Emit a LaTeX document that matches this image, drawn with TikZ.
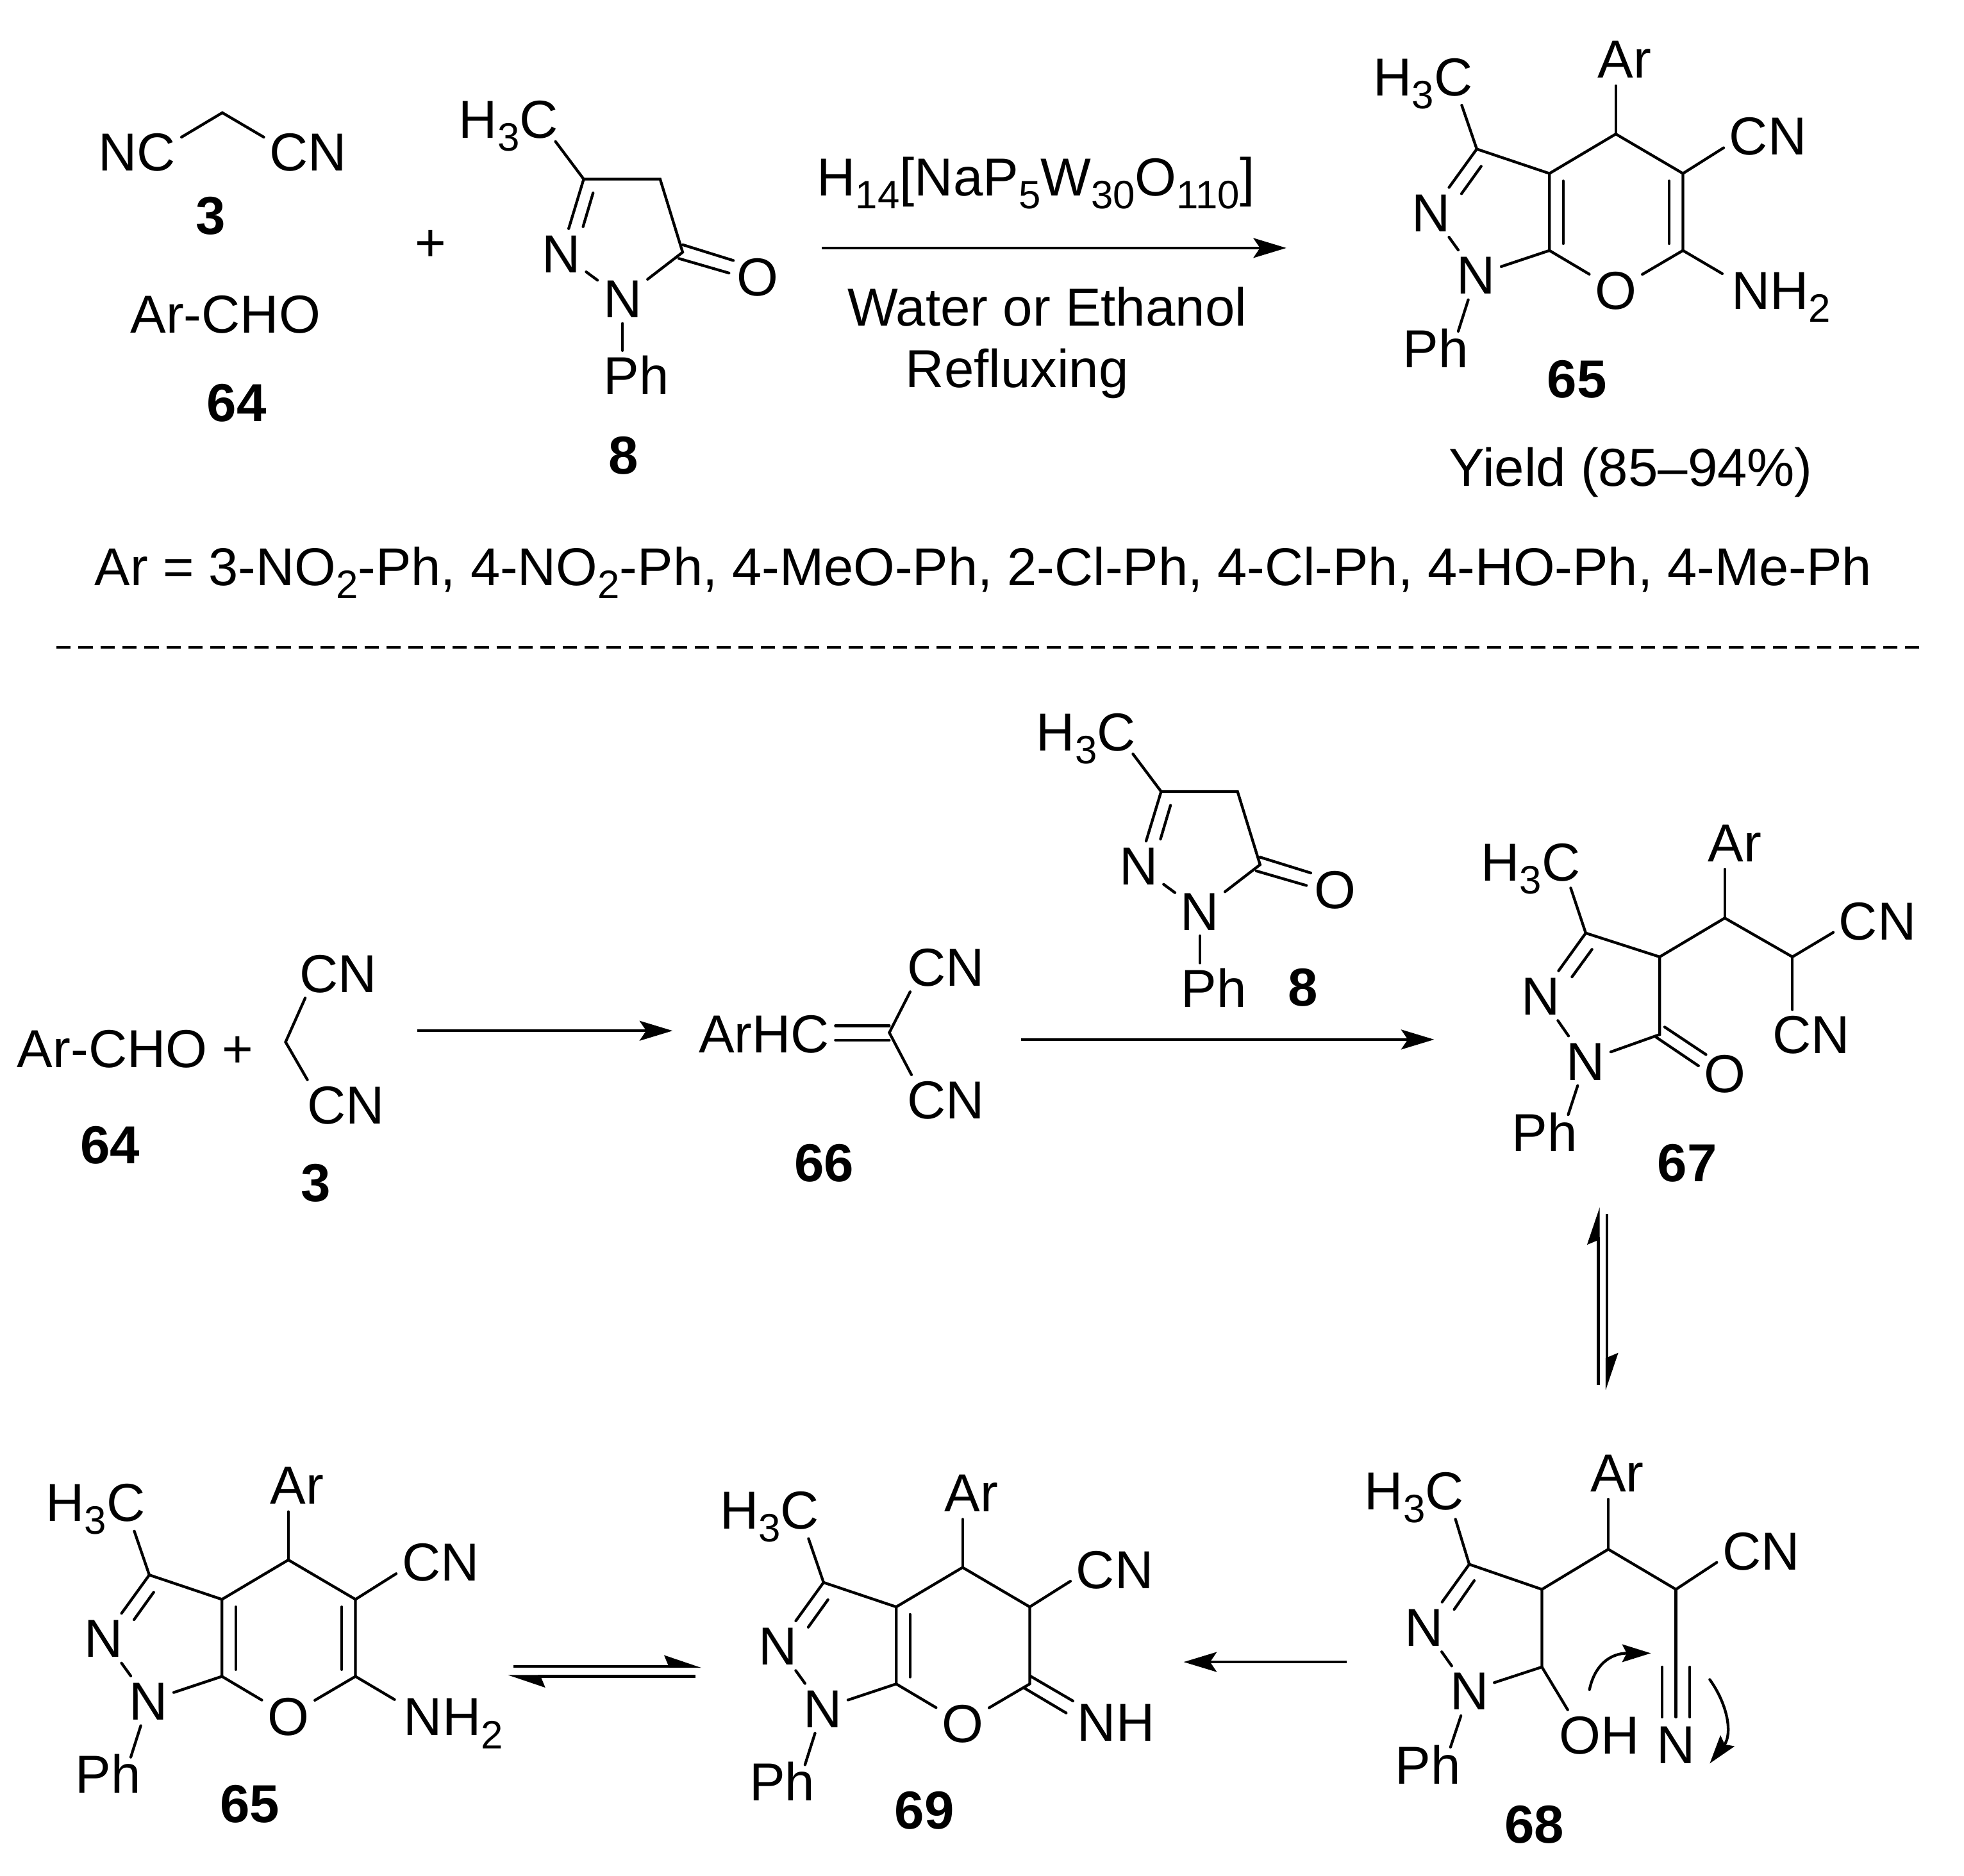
\documentclass[tikz,border=0pt]{standalone}
\usepackage{fontspec}
\setmainfont{Liberation Sans}
\usetikzlibrary{arrows.meta,calc}
\newcommand\chemsub[1]{\raisebox{-0.24em}{\fontsize{18}{18}\selectfont #1}}
\tikzset{
  every node/.style={font=\fontsize{24.3}{28}\selectfont},
  atom/.style={inner sep=2.4pt,text height=17.4pt,text depth=0pt},
  lbl/.style={inner sep=0pt,text height=17.4pt,text depth=0pt},
  cmpd/.style={inner sep=0pt,text height=17.4pt,text depth=0pt,font=\fontsize{24.3}{28}\selectfont\bfseries},
  bond/.style={line width=1.25pt,line cap=round},
  rxn/.style={line width=1.25pt,-{Stealth[length=15pt,width=9pt,inset=3pt]}},
  halfup/.style={line width=1.25pt,-{Stealth[harpoon,length=15pt,width=10pt,inset=2pt]}},
  curly/.style={line width=1.25pt,line cap=round,-{Stealth[length=13pt,width=8pt,inset=2pt]}},
  pyrano/.pic={
    \coordinate (-c3a) at (0,0);
    \coordinate (-c3) at (-58,-19.5);
    \coordinate (-c4) at (53,-31.5);
    \coordinate (-c5) at (106.6,0);
    \coordinate (-c6) at (106.6,61.5);
    \coordinate (-c7a) at (0,61.5);
    \node[atom] (-o) at (53,93) {O};
    \node[atom] (-n2) at (-94.5,31) {N};
    \node[atom] (-n1) at (-58.5,81) {N};
    \node[atom] (-h) at (-101,-77.5) {H\chemsub{3}C};
    \node[atom] (-ar) at (60,-91.5) {Ar};
    \node[atom] (-cn) at (174.5,-30) {CN};
    \node[atom] (-ph) at (-91,139.5) {Ph};
    \coordinate (-in1) at (-54.5,-5.7);
    \coordinate (-in2) at (-70.2,16.2);
    \coordinate (-in3) at (11,6);
    \coordinate (-in4) at (11,56);
    \coordinate (-arb) at (53,-70);
    \coordinate (-hb) at (-70,-54.5);
    \coordinate (-phb) at (-72.8,126);
    \draw[bond] (-c3) -- (-hb);
    \draw[bond] (-c3) -- (-n2);
    \draw[bond] (-in1) -- (-in2);
    \draw[bond] (-n2) -- (-n1);
    \draw[bond] (-n1) -- (-c7a);
    \draw[bond] (-c7a) -- (-c3a) -- (-c3);
    \draw[bond] (-in3) -- (-in4);
    \draw[bond] (-c3a) -- (-c4) -- (-c5) -- (-c6);
    \draw[bond] (-c7a) -- (-o) -- (-c6);
    \draw[bond] (-c4) -- (-arb);
    \draw[bond] (-c5) -- (-cn.195);
    \draw[bond] (-n1) -- (-phb);
  },
  pzone/.pic={
    \coordinate (-c3) at (0,0);
    \coordinate (-c4) at (61,0);
    \coordinate (-c5) at (79,58.4);
    \coordinate (-in1) at (7.5,11);
    \coordinate (-in2) at (-0.5,38);
    \coordinate (-o1) at (79,52.4);
    \coordinate (-o2) at (119.5,65);
    \coordinate (-o3) at (76,63.4);
    \coordinate (-o4) at (116,75);
    \coordinate (-hb) at (-22.5,-30);
    \node[atom] (-h) at (-60,-48) {H\chemsub{3}C};
    \node[atom] (-n2) at (-18,59.4) {N};
    \node[atom] (-n1) at (31,95.4) {N};
    \node[atom] (-o) at (139,78) {O};
    \node[atom] (-ph) at (42,156.7) {Ph};
    \draw[bond] (-c3) -- (-hb);
    \draw[bond] (-c3) -- (-c4) -- (-c5) -- (-n1) -- (-n2) -- (-c3);
    \draw[bond] (-in1) -- (-in2);
    \draw[bond] (-o1) -- (-o2);
    \draw[bond] (-o3) -- (-o4);
    \draw[bond] (-n1.south) -- (-n1.south |- -ph.north);
  }
}
\begin{document}
\begin{tikzpicture}[x=0.02cm,y=-0.02cm]
\useasboundingbox (0,0) rectangle (1568,1497.4);
% ---------- top scheme
\node[atom] (nc) at (109.5,121) {NC};
\node[atom] (cnr) at (246,121) {CN};
\coordinate (mid) at (177.5,90);
\draw[bond] (nc.18) -- (mid) -- (cnr.162);
\node[cmpd] (l3) at (168,172) {3};
\node[lbl] (archo) at (180,250.5) {Ar-CHO};
\node[cmpd] (l64) at (189,321) {64};
\node[lbl] (plus) at (344,193) {+};
\pic (s) at (466,143) {pzone};
\node[cmpd] (l8) at (498,363) {8};
\coordinate (a1) at (656,198);
\coordinate (a2) at (1027,198);
\draw[rxn] (a1) -- (a2);
\node[lbl] (cat) at (827,141) {H\chemsub{14}[NaP\chemsub{5}W\chemsub{30}O\chemsub{110}]};
\node[lbl] (wat) at (836,245) {Water or Ethanol};
\node[lbl] (ref) at (812,294) {Refluxing};
\pic (p) at (1237,138.5) {pyrano};
\node[atom] (pnh) at (1422,231.5) {NH\chemsub{2}};
\coordinate (pi1) at (1332.6,144.5);
\coordinate (pi2) at (1332.6,194.5);
\coordinate (pnhb) at (1375,218.5);
\draw[bond] (pi1) -- (pi2);
\draw[bond] (p-c6) -- (pnhb);
\node[cmpd] (l65a) at (1259,302) {65};
\node[lbl] (yield) at (1302,373) {Yield (85--94\%)};
\node[lbl,font=\fontsize{24.2}{28}\selectfont] (arlist) at (785,452) {Ar = 3-NO\chemsub{2}-Ph, 4-NO\chemsub{2}-Ph, 4-MeO-Ph, 2-Cl-Ph, 4-Cl-Ph, 4-HO-Ph, 4-Me-Ph};
\coordinate (d1) at (45,517);
\coordinate (d2) at (1533,517);
\draw[line width=1.25pt,dash pattern=on 6.5pt off 3.5pt] (d1) -- (d2);
% ---------- middle row
\node[lbl] (archo2) at (108,837) {Ar-CHO +};
\node[cmpd] (l64b) at (88,914) {64};
\node[atom] (mcn1) at (270,777) {CN};
\node[atom] (mcn2) at (276,882) {CN};
\coordinate (mv) at (228,832);
\draw[bond] (mcn1.217) -- (mv) -- (mcn2.147);
\node[cmpd] (l3b) at (252,944) {3};
\coordinate (m1) at (333,823);
\coordinate (m2) at (537,823);
\draw[rxn] (m1) -- (m2);
\node[atom] (arhc) at (610,825) {ArHC};
\coordinate (ev) at (710,824.5);
\coordinate (e1) at (667,819);
\coordinate (e2) at (710,819);
\coordinate (e3) at (667,830.5);
\coordinate (e4) at (710,830.5);
\draw[bond] (e1) -- (e2);
\draw[bond] (e3) -- (e4);
\node[atom] (ecn1) at (755,772) {CN};
\node[atom] (ecn2) at (755,878) {CN};
\draw[bond] (ecn1.215) -- (ev) -- (ecn2.144);
\node[cmpd] (l66) at (658,928) {66};
\coordinate (m3) at (815,830);
\coordinate (m4) at (1145,830);
\draw[rxn] (m3) -- (m4);
\pic (q) at (927,632) {pzone};
\node[cmpd] (l8b) at (1040,788) {8};
% ---------- 67
\coordinate (g3) at (1266,745);
\coordinate (g4) at (1325,764);
\coordinate (g5) at (1325,826);
\coordinate (gch) at (1377,733);
\coordinate (gcq) at (1431,764);
\coordinate (gin1) at (1271,758);
\coordinate (gin2) at (1255,780);
\coordinate (go1) at (1329,820);
\coordinate (go2) at (1362,842);
\coordinate (go3) at (1322,828);
\coordinate (go4) at (1356,851);
\coordinate (garb) at (1377,694);
\coordinate (ghb) at (1254,709);
\coordinate (gphb) at (1252,890);
\node[atom] (gh) at (1222,688) {H\chemsub{3}C};
\node[atom] (gar) at (1385,673) {Ar};
\node[atom] (gcn1) at (1499,735) {CN};
\node[atom] (gcn2) at (1446,826) {CN};
\node[atom] (gn2) at (1230,795) {N};
\node[atom] (gn1) at (1266,847) {N};
\node[atom] (go) at (1377,857) {O};
\node[atom] (gph) at (1233,904) {Ph};
\node[cmpd] (l67) at (1347,928) {67};
\draw[bond] (g3) -- (ghb);
\draw[bond] (g3) -- (gn2) -- (gn1) -- (g5) -- (g4) -- (g3);
\draw[bond] (gin1) -- (gin2);
\draw[bond] (go1) -- (go2);
\draw[bond] (go3) -- (go4);
\draw[bond] (g4) -- (gch) -- (gcq);
\draw[bond] (gch) -- (garb);
\draw[bond] (gcq) -- (gcn1.195);
\draw[bond] (gcq) -- (gcq |- gcn2.north);
\draw[bond] (gn1) -- (gphb);
% equilibrium vertical
\coordinate (v1) at (1276,1106);
\coordinate (v2) at (1276,964);
\coordinate (v3) at (1283,969);
\coordinate (v4) at (1283,1110);
\draw[halfup] (v1) -- (v2);
\draw[halfup] (v3) -- (v4);
% ---------- 68
\coordinate (h3) at (1173,1249);
\coordinate (h4) at (1231,1269);
\coordinate (h5) at (1231,1331);
\coordinate (hch) at (1284,1237);
\coordinate (hcq) at (1338,1269);
\coordinate (hin1) at (1177,1262);
\coordinate (hin2) at (1161,1285);
\coordinate (harb) at (1284,1197);
\coordinate (ht) at (1338,1331);
\coordinate (ht1) at (1338,1371);
\coordinate (ht2) at (1327,1331);
\coordinate (ht3) at (1327,1371);
\coordinate (ht4) at (1349,1331);
\coordinate (ht5) at (1349,1371);
\coordinate (hhb) at (1162,1213);
\coordinate (hphb) at (1158,1395);
\node[atom] (hh) at (1129,1190) {H\chemsub{3}C};
\node[atom] (har) at (1291,1176) {Ar};
\node[atom] (hcn) at (1406,1238) {CN};
\node[atom] (hn2) at (1137,1299) {N};
\node[atom] (hn1) at (1173,1350) {N};
\node[atom] (hoh) at (1277,1385) {OH};
\node[atom] (hn) at (1338,1393) {N};
\node[atom] (hph) at (1140,1409) {Ph};
\node[cmpd] (l68) at (1225,1456) {68};
\draw[bond] (h3) -- (hhb);
\draw[bond] (h3) -- (hn2) -- (hn1) -- (h5) -- (h4) -- (h3);
\draw[bond] (hin1) -- (hin2);
\draw[bond] (h4) -- (hch) -- (hcq);
\draw[bond] (hch) -- (harb);
\draw[bond] (hcq) -- (hcn.195);
\draw[bond] (hcq) -- (ht) -- (ht1);
\draw[bond] (ht2) -- (ht3);
\draw[bond] (ht4) -- (ht5);
\draw[bond] (h5) -- (hoh.142);
\draw[bond] (hn1) -- (hphb);
\coordinate (ca1) at (1269,1349);
\coordinate (ca2) at (1318,1320);
\draw[curly] (ca1) .. controls (1273,1330) and (1285,1320) .. (ca2);
\coordinate (cb1) at (1365,1341);
\coordinate (cb2) at (1365,1408);
\draw[curly] (cb1) .. controls (1380,1362) and (1383,1385) .. (cb2);
\coordinate (n1) at (1075,1327);
\coordinate (n2) at (945,1327);
\draw[rxn] (n1) -- (n2);
% ---------- 69
\pic (r) at (715.5,1283) {pyrano};
\node[atom] (rnh) at (891,1375) {NH};
\coordinate (rd1) at (822.5,1338.2);
\coordinate (rd2) at (856.6,1358.1);
\coordinate (rd3) at (817.4,1347.6);
\coordinate (rd4) at (851.2,1367.7);
\draw[bond] (rd1) -- (rd2);
\draw[bond] (rd3) -- (rd4);
\node[cmpd] (l69) at (738,1445) {69};
% ---------- bottom 65
\pic (b) at (177.2,1277) {pyrano};
\node[atom] (bnh) at (362,1370.5) {NH\chemsub{2}};
\coordinate (bi1) at (272.8,1283);
\coordinate (bi2) at (272.8,1333);
\coordinate (bnhb) at (315,1357);
\draw[bond] (bi1) -- (bi2);
\draw[bond] (b-c6) -- (bnhb);
\node[cmpd] (l65b) at (199.5,1440) {65};
% equilibrium horizontal
\coordinate (w1) at (410,1330.5);
\coordinate (w2) at (560,1330.5);
\coordinate (w3) at (555,1338.5);
\coordinate (w4) at (405.5,1338.5);
\draw[halfup] (w1) -- (w2);
\draw[halfup] (w3) -- (w4);
\end{tikzpicture}
\end{document}
